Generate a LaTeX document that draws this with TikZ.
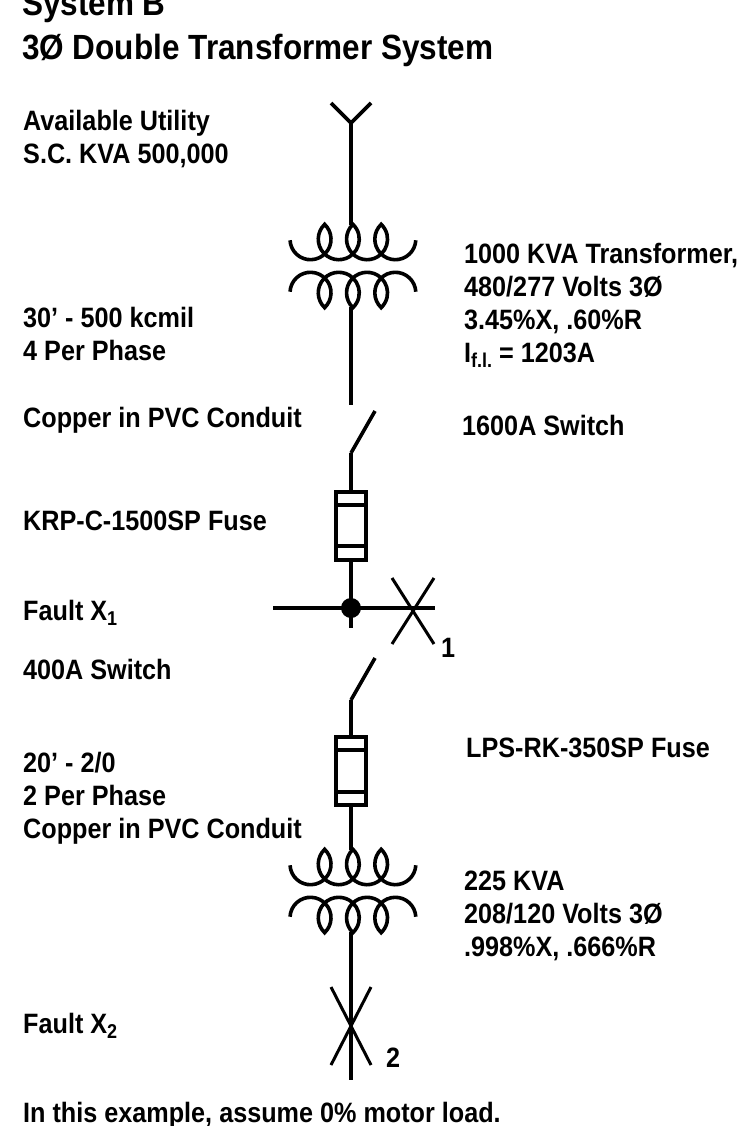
\documentclass[tikz,border=0pt]{standalone}
\usepackage{fontspec}
\setmainfont{Liberation Sans}[FakeStretch=0.90]
\usetikzlibrary{positioning}
\newcommand{\lowsub}[1]{{\fontsize{20}{20}\selectfont\raisebox{-5pt}{#1}}}
% transformer: two windings, #1 = centre y of the upper winding's arcs
\newcommand{\coilpair}[1]{%
  \draw[wire] ([shift={(177:20.5)}]310.5,#1)
    arc[start angle=177,end angle=-46.4,radius=20.5]
    arc[start angle=226.4,end angle=-46.4,radius=20.5]
    arc[start angle=226.4,end angle=-46.4,radius=20.5]
    arc[start angle=226.4,end angle=3,radius=20.5];
  \draw[wire] ([shift={(-177:20.5)}]310.5,#1+53.6)
    arc[start angle=-177,end angle=46.4,radius=20.5]
    arc[start angle=-226.4,end angle=46.4,radius=20.5]
    arc[start angle=-226.4,end angle=46.4,radius=20.5]
    arc[start angle=-226.4,end angle=-3,radius=20.5];}

\begin{document}
\begin{tikzpicture}[x=1pt,y=-1pt
  ,wire/.style={line width=3.6pt}
  ,txt/.style={anchor=base west,align=left,inner sep=0pt,
    font=\bfseries\fontsize{28}{33}\selectfont}
  ,title/.style={anchor=base west,align=left,inner sep=0pt,
    font=\bfseries\fontsize{35}{44}\selectfont}]
  \useasboundingbox (0,0) rectangle (754,1126);

  % texts (multi-line nodes sit on their last line)
  \node[title] (ttl) at (22,60) {System B\\3Ø Double Transformer System};
  \node[txt] (util) at (23,164) {Available Utility\\S.C. KVA 500,000};
  \node[txt] (tdat1) at (464,362) {1000 KVA Transformer,\\480/277 Volts 3Ø\\3.45\%X, .60\%R\\I\lowsub{f.l.} = 1203A};
  \node[txt] (cab1) at (23,360) {30’ - 500 kcmil\\4 Per Phase};
  \node[txt] (cab1b) at (23,427) {Copper in PVC Conduit};
  \node[txt] (sw1l) at (462,435) {1600A Switch};
  \node[txt] (fu1l) at (23,530) {KRP-C-1500SP Fuse};
  \node[txt] (fx1) at (23,620) {Fault X\lowsub{1}};
  \node[txt] (sw2l) at (23,679) {400A Switch};
  \node[txt] (fu2l) at (466,757) {LPS-RK-350SP Fuse};
  \node[txt] (cab2) at (23,838) {20’ - 2/0\\2 Per Phase\\Copper in PVC Conduit};
  \node[txt] (tdat2) at (464,956) {225 KVA\\208/120 Volts 3Ø\\.998\%X, .666\%R};
  \node[txt] (fx2) at (23,1033) {Fault X\lowsub{2}};
  \node[txt] (note) at (23,1122) {In this example, assume 0\% motor load.};

  % main line points
  \coordinate (ant) at (351,123);
  \coordinate (t1top) at (351,225);
  \coordinate (t1bot) at (351,307);
  \coordinate (sw1a) at (351,405);
  \coordinate (sw1b) at (351,453);
  \coordinate (fu1) at (351,492);
  \coordinate (bus) at (351,608);
  \coordinate (sw2a) at (351,628);
  \coordinate (sw2b) at (351,700);
  \coordinate (fu2) at (351,737);
  \coordinate (t2top) at (351,850);
  \coordinate (t2bot) at (351,932);
  \coordinate (end) at (351,1080);

  % utility
  \draw[wire] (331,103) -- (ant) -- (371,103);
  \draw[wire] (ant) -- (t1top);
  \coilpair{239.2}
  \draw[wire] (t1bot) -- (sw1a);
  % switch 1 and fuse 1
  \draw[wire] (sw1b) -- ++(24,-42);
  \draw[wire] (sw1b) -- (fu1);
  \draw[wire] (336,492) rectangle (366,560);
  \draw[wire] (336,505) -- (366,505) (336,546) -- (366,546);
  \draw[wire] (351,560) -- (bus);
  % fault 1
  \draw[wire] (273,608) -- (435,608);
  \fill (bus) circle (10);
  \draw[line width=3pt] (392,578) -- (434,644) (434,578) -- (392,644);
  \node[txt] (n1) at (441,657) {1};
  \draw[wire] (bus) -- (sw2a);
  % switch 2 and fuse 2
  \draw[wire] (sw2b) -- ++(24,-42);
  \draw[wire] (sw2b) -- (fu2);
  \draw[wire] (336,737) rectangle (366,805);
  \draw[wire] (336,750) -- (366,750) (336,792) -- (366,792);
  \draw[wire] (351,805) -- (t2top);
  % transformer 2
  \coilpair{864.2}
  \draw[wire] (t2bot) -- (end);
  % fault 2
  \draw[line width=3pt] (331,987) -- (371,1065) (371,987) -- (331,1065);
  \node[txt] (n2) at (386,1067) {2};
\end{tikzpicture}
\end{document}
